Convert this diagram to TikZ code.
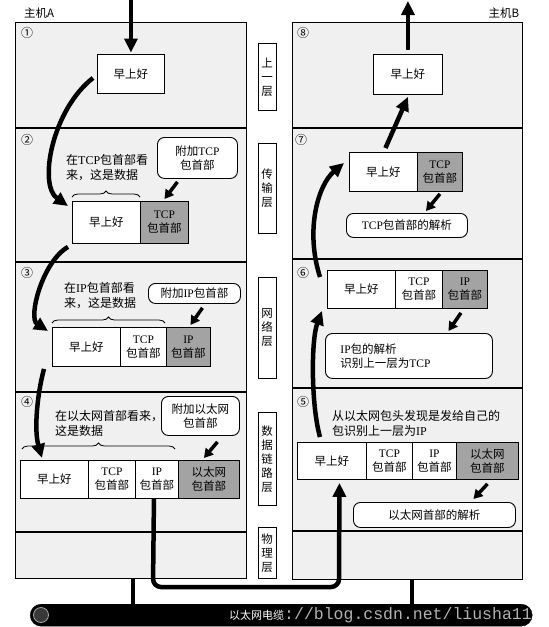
\documentclass[tikz,border=0pt]{standalone}
\usepackage{fontspec}
\setmainfont{Noto Sans CJK SC}
\newfontfamily\lat{Liberation Serif}
\newfontfamily\wmfont{Liberation Mono}
\usetikzlibrary{arrows.meta,decorations.pathreplacing,calc}
\newcommand\myT{{\lat TCP}}
\newcommand\myI{{\lat IP}}
\definecolor{panelc}{gray}{0.94}
\definecolor{hdrc}{gray}{0.64}
\begin{document}
\begin{tikzpicture}[x=1pt,y=1pt,
  every node/.style={font=\fontsize{11.5}{14}\selectfont, inner sep=0pt},
  panelbox/.style={draw, line width=1.1pt, fill=panelc, anchor=north west, minimum width=#1},
  sepline/.style={line width=1.1pt},
  cell/.style 2 args={draw, line width=0.9pt, fill=white, anchor=north west, minimum width=#1, minimum height=#2, align=center},
  hcell/.style 2 args={cell={#1}{#2}, fill=hdrc},
  bubble/.style 2 args={draw, line width=0.9pt, fill=white, rounded corners=7pt, anchor=north west, minimum width=#1, minimum height=#2, align=center},
  layerbox/.style={draw, line width=0.9pt, fill=white, anchor=north, minimum width=18pt, minimum height=#1, text width=12pt, align=center},
  bigarrow/.style={line width=4.5pt, -{Triangle[width=13pt,length=14pt]}},
  smallarrow/.style={line width=3.5pt, -{Triangle[width=10pt,length=9pt]}},
  bracestyle/.style={decorate, decoration={brace, amplitude=6pt}, line width=0.8pt},
  num/.style={font=\fontsize{12}{14}\selectfont},
  lbl/.style={anchor=west, align=left, font=\fontsize{12}{15}\selectfont},
]
\useasboundingbox (0,0) rectangle (549,-627);

% panels
\node[panelbox=231pt, minimum height=556pt] (PA) at (15,-22) {};
\node[panelbox=230pt, minimum height=557pt] (PB) at (292,-22) {};
\foreach \yy in {128,262,392,532} \draw[sepline] (PA.west |- 0,-\yy) -- (PA.east |- 0,-\yy);
\foreach \yy in {128,259,388,531} \draw[sepline] (PB.west |- 0,-\yy) -- (PB.east |- 0,-\yy);

% host labels
\node (hA) at (39,-13) {主机A};
\node (hB) at (504,-13) {主机B};

% step numbers
\node[num] (n1) at (27,-33) {①};
\node[num] (n2) at (27,-140) {②};
\node[num] (n3) at (27,-273) {③};
\node[num] (n4) at (27,-402) {④};
\node[num] (n8) at (303,-33) {⑧};
\node[num] (n7) at (301,-140) {⑦};
\node[num] (n6) at (303,-273) {⑥};
\node[num] (n5) at (303,-402) {⑤};

% layer labels
\node[layerbox=67pt] (L1) at (267,-43) {上\\一\\层};
\node[layerbox=90pt] (L2) at (267,-143) {传\\输\\层};
\node[layerbox=101pt] (L3) at (267,-277) {网\\络\\层};
\node[layerbox=93pt] (L4) at (267,-412) {数\\据\\链\\路\\层};
\node[layerbox=51pt] (L5) at (267,-527) {物\\理\\层};

% ---- host A ----
\node[cell={67pt}{39pt}] (w1) at (97,-54) {早上好};

\node[cell={68pt}{42pt}] (a2) at (72,-201) {早上好};
\node[hcell={48pt}{42pt}] (t2) at (140,-201) {\myT\\包首部};
\node[bubble={80pt}{41pt}] (b2) at (157,-137) {附加\myT\\包首部};
\node[lbl] (l2) at (66,-168) {在\myT 包首部看\\来，这是数据};
\draw[bracestyle] (72,-197) -- (140,-197);

\node[cell={68pt}{39pt}] (a3) at (52,-327) {早上好};
\node[cell={46pt}{39pt}] (t3) at (120,-327) {\myT\\包首部};
\node[hcell={44pt}{39pt}] (i3) at (166,-327) {\myI\\包首部};
\node[bubble={92pt}{20pt}] (b3) at (148,-283) {附加\myI 包首部};
\node[lbl] (l3) at (64,-295.5) {在\myI 包首部看\\来，这是数据};
\draw[bracestyle] (52,-323) -- (165,-323);

\node[cell={68pt}{38pt}] (a4) at (20,-460) {早上好};
\node[cell={47pt}{38pt}] (t4) at (88,-460) {\myT\\包首部};
\node[cell={43pt}{38pt}] (i4) at (135,-460) {\myI\\包首部};
\node[hcell={61pt}{38pt}] (e4) at (178,-460) {以太网\\包首部};
\node[bubble={78pt}{39pt}] (b4) at (161,-396) {附加以太网\\包首部};
\node[lbl] (l4) at (55,-423.5) {在以太网首部看来，\\这是数据};
\draw[bracestyle] (22,-449) -- (175,-449);

% ---- host B ----
\node[cell={69pt}{40pt}] (w8) at (373,-54) {早上好};

\node[cell={68pt}{39pt}] (a7) at (349,-152) {早上好};
\node[hcell={45pt}{39pt}] (t7) at (417,-152) {\myT\\包首部};
\node[bubble={121pt}{24pt}] (b7) at (346,-213) {\myT 包首部的解析};

\node[cell={68pt}{38pt}] (a6) at (327,-270) {早上好};
\node[cell={47pt}{38pt}] (t6) at (395,-270) {\myT\\包首部};
\node[hcell={45pt}{38pt}] (i6) at (442,-270) {\myI\\包首部};
\node[bubble={167pt}{45pt}, text width=137pt, inner xsep=15pt, align=left] (b6) at (325,-333) {\myI 包的解析\\识别上一层为\myT};

\node[cell={69pt}{37pt}] (a5) at (297,-442) {早上好};
\node[cell={46pt}{37pt}] (t5) at (366,-442) {\myT\\包首部};
\node[cell={44pt}{37pt}] (i5) at (412,-442) {\myI\\包首部};
\node[hcell={62pt}{37pt}] (e5) at (456,-442) {以太网\\包首部};
\node[bubble={162pt}{25pt}] (b5) at (353,-502) {以太网首部的解析};
\node[lbl] (l5) at (332,-423.5) {从以太网包头发现是发给自己的\\包识别上一层为\myI};

% ---- cable ----
\node[draw=black, fill=black, rounded corners=11pt, anchor=north west, minimum width=502pt, minimum height=22pt] (cable) at (30,-604) {};
\node[circle, draw=gray!70, fill=gray!45!black, line width=0.8pt, minimum size=15pt] (plug) at (41,-615) {};
\node[text=white, font=\fontsize{11}{13}\selectfont, anchor=west] (ctext) at (229,-615) {以太网电缆};
\node[anchor=west, text=gray!60, font=\wmfont\fontsize{16.5}{19}\selectfont] (wm) at (284,-615) {://blog.csdn.net/liusha11};
\draw[line width=4pt] (PA.south -| 133,0) -- (cable.north -| 133,0);
\draw[line width=4pt] (PB.south -| 412,0) -- (cable.north -| 412,0);

% ---- arrows host A ----
\coordinate (topA) at (w1.north |- 0,0);
\draw[bigarrow] (topA) -- ([yshift=1.5pt]w1.north);
\draw[bigarrow] ($(w1.west)+(-4,-4)$) .. controls (52,-110) and (38,-185) .. ($(a2.north west)+(-4,-5)$);
\draw[bigarrow] ($(a2.south west)+(-4,-3)$) .. controls (42,-262) and (28,-318) .. ($(a3.north west)+(-4,-4)$);
\draw[bigarrow] ($(a3.south west)+(-8,-2)$) .. controls (37,-395) and (34,-430) .. ($(a4.north west)+(22,2)$);
\draw[smallarrow] ($(b2.south)+(-20,-3)$) -- ($(t2.north)+(0,2)$);
\draw[smallarrow] ($(b3.south)+(8,-4)$) -- ($(i3.north)+(2,2)$);
\draw[smallarrow] ($(b4.south)+(17,-6)$) -- ($(e4.north)+(-5,2)$);

% loop from host A to host B
\coordinate (lb) at (153,-587);
\coordinate (rb) at (339,-587);
\draw[line width=4.5pt, rounded corners=8pt, -{Triangle[width=13pt,length=14pt]}] ($(i4.south)+(-3,0)$) -- (lb) -- (rb) -- ($(a5.south)+(7.5,-3)$);

% ---- arrows host B ----
\draw[bigarrow] ($(a5.north west)+(23,5)$) .. controls (311,-405) and (311,-340) .. ($(a6.south west)+(-5,-2)$);
\draw[bigarrow] ($(a6.north west)+(-7,-7)$) .. controls (305,-230) and (318,-185) .. ($(a7.west)+(-5,9)$);
\draw[smallarrow] ($(t7.south)+(0,-2)$) -- ($(b7.north)+(19,2)$);
\draw[smallarrow] ($(i6.south)+(-4,-4)$) -- ($(b6.north)+(39.5,2)$);
\draw[smallarrow] ($(e5.south)+(0,-4)$) -- ($(b5.north)+(39,3)$);
\draw[bigarrow] ($(a7.north)+(2,4)$) -- ($(w8.south)+(0,-2)$);
\coordinate (topB) at (w8.north |- 0,-1);
\draw[bigarrow] ([yshift=4pt]w8.north) -- (topB);
\end{tikzpicture}
\end{document}
